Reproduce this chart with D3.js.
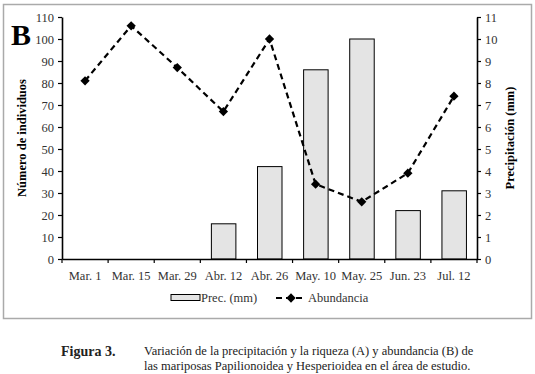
<!DOCTYPE html>
<html>
<head>
<meta charset="utf-8">
<script src="https://cdn.jsdelivr.net/npm/d3@7/dist/d3.min.js"></script>
<style>
  body { margin: 0; background: #fff; }
  svg text { font-family: "Liberation Serif", "Times New Roman", "DejaVu Serif", serif; }
</style>
</head>
<body>
<div id="chart"></div>
<script>
// datos
const fechas = ['Mar. 1', 'Mar. 15', 'Mar. 29', 'Abr. 12', 'Abr. 26', 'May. 10', 'May. 25', 'Jun. 23', 'Jul. 12'];
const precipitacion = [0, 0, 0, 1.6, 4.2, 8.6, 10, 2.2, 3.1];
const abundancia = [81, 106, 87, 67, 100, 34, 26, 39, 74];
const ticksIzq = d3.range(0, 111, 10);
const ticksDer = d3.range(0, 12, 1);

const serif = '"Liberation Serif", "Times New Roman", "DejaVu Serif", serif';
const width = 535, height = 374;
const margin = { top: 17, right: 58, bottom: 115, left: 62 };
const innerW = width - margin.left - margin.right;
const innerH = height - margin.top - margin.bottom;

const svg = d3.select('#chart')
  .append('svg')
  .attr('width', width)
  .attr('height', height);

// marco gris
svg.append('rect')
  .attr('x', 3.5).attr('y', 4.5)
  .attr('width', 528).attr('height', 314)
  .attr('fill', 'none')
  .attr('stroke', '#aaa')
  .attr('stroke-width', 1.5);

const g = svg.append('g')
  .attr('transform', `translate(${margin.left},${margin.top})`);

const xb = d3.scaleBand().domain(fechas).range([0, innerW]);

const yL = d3.scaleLinear().domain([0, 110]).range([innerH, 0]);
const yR = d3.scaleLinear().domain([0, 11]).range([innerH, 0]);

// barras de precipitación
g.selectAll('rect.bar')
  .data(fechas.map((f, i) => ({ f, v: precipitacion[i] })).filter(d => d.v > 0))
  .enter()
  .append('rect')
  .attr('class', 'bar')
  .attr('x', d => xb(d.f) + xb.bandwidth() / 2 - 12)
  .attr('y', d => yR(d.v))
  .attr('width', 24.5)
  .attr('height', d => innerH - yR(d.v))
  .attr('fill', '#e4e4e4')
  .attr('stroke', '#000')
  .attr('stroke-width', 1);

// ejes
const axisStyle = sel => {
  sel.attr('font-family', serif);
  sel.select('.domain').attr('stroke', '#000').attr('stroke-width', 1.6);
  sel.selectAll('.tick line').attr('stroke', '#000').attr('stroke-width', 1.2);
  sel.selectAll('.tick text')
    .attr('fill', '#333')
    .style('font-size', '12.5px')
    .style('font-family', serif);
};

g.append('g')
  .call(d3.axisLeft(yL).tickValues(ticksIzq).tickSize(4).tickSizeOuter(0).tickPadding(4))
  .call(axisStyle);

g.append('g')
  .attr('transform', `translate(${innerW},0)`)
  .call(d3.axisRight(yR).tickValues(ticksDer).tickSize(4).tickSizeOuter(0).tickPadding(4))
  .call(axisStyle);

const xAxis = g.append('g')
  .attr('transform', `translate(0,${innerH})`)
  .call(d3.axisBottom(xb).tickSize(0).tickPadding(12))
  .call(axisStyle);

// marcas en los límites de cada categoría
xAxis.selectAll('line.lim')
  .data(d3.range(fechas.length + 1))
  .enter()
  .append('line')
  .attr('class', 'lim')
  .attr('x1', i => i * xb.step())
  .attr('x2', i => i * xb.step())
  .attr('y1', 0).attr('y2', 4)
  .attr('stroke', '#000')
  .attr('stroke-width', 1.2);

// línea de abundancia
const line = d3.line()
  .x((d, i) => xb(fechas[i]) + xb.bandwidth() / 2)
  .y(d => yL(d));

g.append('path')
  .datum(abundancia)
  .attr('fill', 'none')
  .attr('stroke', '#000')
  .attr('stroke-width', 2.2)
  .attr('stroke-dasharray', '6,4')
  .attr('d', line);

const diamond = d3.symbol().type(d3.symbolDiamond2).size(55);
g.selectAll('path.pt')
  .data(abundancia)
  .enter()
  .append('path')
  .attr('class', 'pt')
  .attr('d', diamond)
  .attr('transform', (d, i) => `translate(${xb(fechas[i]) + xb.bandwidth() / 2},${yL(d)})`)
  .attr('fill', '#000');

// títulos de ejes
svg.append('text')
  .attr('transform', `translate(26,${margin.top + innerH / 2}) rotate(-90)`)
  .attr('text-anchor', 'middle')
  .style('font-size', '12.5px')
  .style('font-weight', 'bold')
  .text('Número de individuos');

svg.append('text')
  .attr('transform', `translate(514,${margin.top + innerH / 2}) rotate(-90)`)
  .attr('text-anchor', 'middle')
  .style('font-size', '12.5px')
  .style('font-weight', 'bold')
  .text('Precipitación (mm)');

svg.append('text')
  .attr('x', 11).attr('y', 45)
  .style('font-size', '30px')
  .style('font-weight', 'bold')
  .text('B');

// leyenda
const ly = 298;
svg.append('rect')
  .attr('x', 171).attr('y', ly - 3.5)
  .attr('width', 29).attr('height', 6)
  .attr('fill', '#e4e4e4')
  .attr('stroke', '#000')
  .attr('stroke-width', 1);
svg.append('text')
  .attr('x', 201).attr('y', ly + 4)
  .style('font-size', '12.5px')
  .attr('fill', '#333')
  .text('Prec. (mm)');

svg.append('line')
  .attr('x1', 276).attr('x2', 306)
  .attr('y1', ly).attr('y2', ly)
  .attr('stroke', '#000')
  .attr('stroke-width', 2.2)
  .attr('stroke-dasharray', '6,4');
svg.append('path')
  .attr('d', diamond)
  .attr('transform', `translate(291,${ly})`)
  .attr('fill', '#000');
svg.append('text')
  .attr('x', 308).attr('y', ly + 4)
  .style('font-size', '12.5px')
  .attr('fill', '#333')
  .text('Abundancia');

// pie de figura
svg.append('text')
  .attr('x', 61).attr('y', 356)
  .style('font-size', '14px')
  .style('font-weight', 'bold')
  .attr('fill', '#222')
  .text('Figura 3.');

const pie = ['Variación de la precipitación y la riqueza (A) y abundancia (B) de',
  'las mariposas Papilionoidea y Hesperioidea en el área de estudio.'];
svg.selectAll('text.pie')
  .data(pie)
  .enter()
  .append('text')
  .attr('class', 'pie')
  .attr('x', 144)
  .attr('y', (d, i) => 355 + i * 14.5)
  .style('font-size', '12.5px')
  .attr('fill', '#222')
  .text(d => d);
</script>
</body>
</html>
